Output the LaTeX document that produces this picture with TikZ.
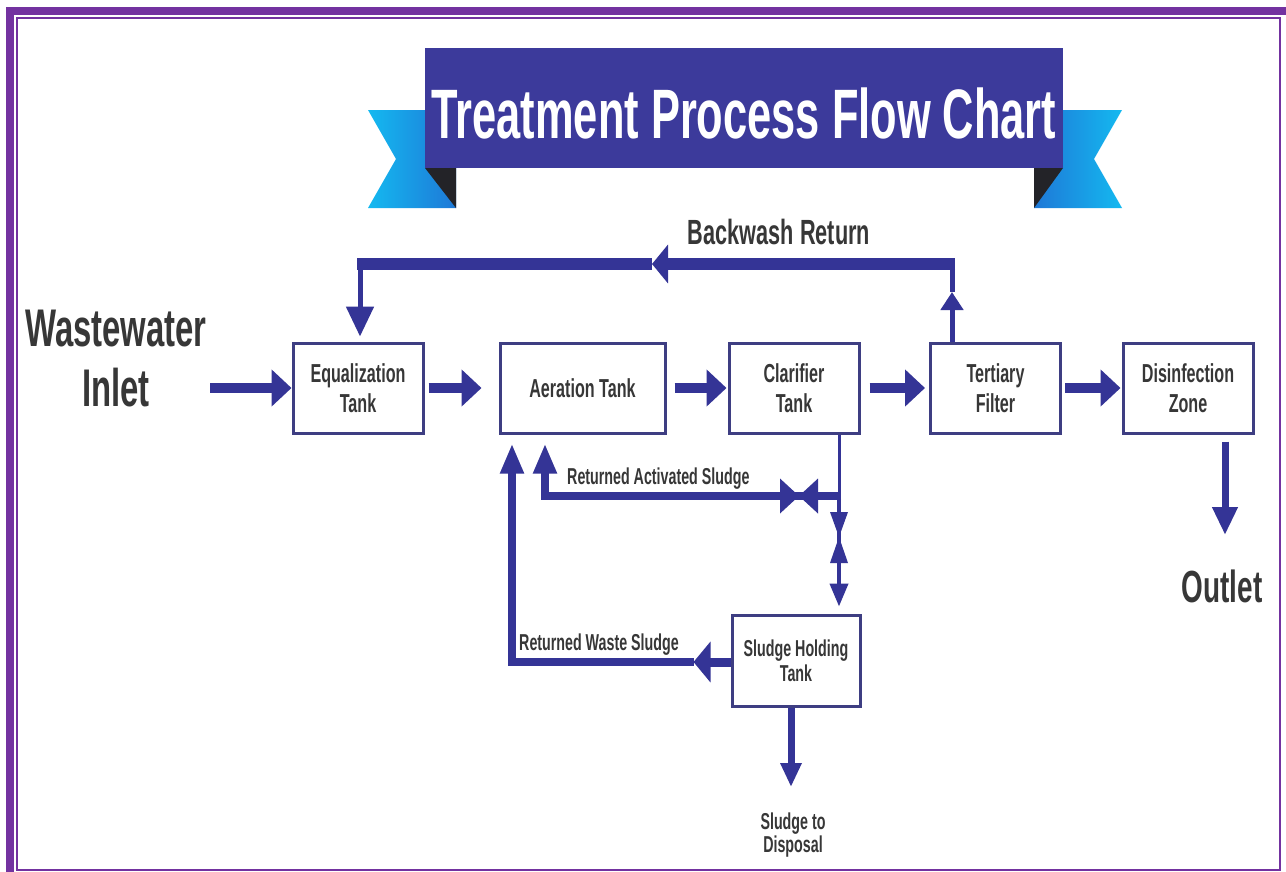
\documentclass[tikz,border=0pt]{standalone}
\usepackage{fontspec}
\setmainfont{Liberation Sans}
\newfontfamily\cndfont{Liberation Sans}[FakeStretch=0.62]
\usetikzlibrary{arrows.meta,calc}
\definecolor{pipe}{RGB}{52,52,150}
\definecolor{banner}{RGB}{60,58,155}
\definecolor{boxline}{RGB}{62,62,130}
\definecolor{txt}{RGB}{55,55,55}
\definecolor{framepurple}{RGB}{115,50,160}
\definecolor{tailL}{RGB}{20,185,240}
\definecolor{tailD}{RGB}{30,120,215}
\definecolor{fold}{RGB}{35,35,40}

\begin{document}
\begin{tikzpicture}[x=1pt,y=-1pt,
    tank/.style={draw=boxline,line width=3pt,fill=white,minimum width=130pt,minimum height=90pt,
      align=center,text=txt,font=\cndfont\bfseries\fontsize{26}{30}\selectfont},
    flowtag/.style={text=txt,inner sep=0pt,font=\cndfont\bfseries\fontsize{23}{24}\selectfont},
    mainflow/.style={draw=pipe,line width=10pt,-{Triangle[length=20pt,width=36pt]}},
    drop/.style={draw=pipe,line width=7pt,-{Triangle[length=28pt,width=24pt]}},
    feed/.style={draw=pipe,line width=5pt},
    backwash/.style={draw=pipe,line width=12pt},
    sludge/.style={draw=pipe,line width=8pt}]
  \useasboundingbox (0,0) rectangle (1286,871);
  \fill[white] (0,0) rectangle (1286,871);
  % frame
  \draw[framepurple,line width=8pt] (10,10.5) rectangle (1290,880);
  \draw[framepurple,line width=2.5pt] (17,18) rectangle (1280,870);

  % ribbon
  \shade[left color=tailL,right color=tailD] (368,110) -- (456,110) -- (456,208) -- (368,208) -- (396,159) -- cycle;
  \shade[left color=tailD,right color=tailL] (1122,110) -- (1034,110) -- (1034,208) -- (1122,208) -- (1094,159) -- cycle;
  \fill[fold] (425,168) -- (456,168) -- (456,208) -- cycle;
  \fill[fold] (1063,168) -- (1034,168) -- (1034,208) -- cycle;
  \node[fill=banner,minimum width=638pt,minimum height=120pt] (banner) at (744,108) {};
  \node[text=white,font=\cndfont\bfseries\fontsize{70}{80}\selectfont] (title) at (744,113) {Treatment Process Flow Chart};

  % tanks
  \node[tank] (eq) at (358,388) {Equalization\\Tank};
  \node[tank,minimum width=165pt] (aer) at (582.5,388) {Aeration Tank};
  \node[tank] (clar) at (794,388) {Clarifier\\Tank};
  \node[tank] (tert) at (995.5,388) {Tertiary\\Filter};
  \node[tank] (dis) at (1188,388) {Disinfection\\Zone};
  \node[tank,minimum width=128pt,minimum height=91pt,font=\cndfont\bfseries\fontsize{23}{25}\selectfont] (hold) at (796,660.5) {Sludge Holding\\Tank};

  % texts
  \node[align=center,text=txt,font=\cndfont\bfseries\fontsize{53}{60}\selectfont] (inlet) at (116,359) {Wastewater\\Inlet};
  \node[text=txt,font=\cndfont\bfseries\fontsize{45}{50}\selectfont] (outlet) at (1222,586) {Outlet};
  \node[flowtag,align=center,font=\cndfont\bfseries\fontsize{23}{21}\selectfont] (disposal) at (793,835) {Sludge to\\Disposal};
  \node[flowtag,font=\cndfont\bfseries\fontsize{35}{40}\selectfont] (bwlabel) at (779,232) {Backwash Return};
  \node[flowtag,anchor=base west] (raslabel) at (567,484) {Returned Activated Sludge};
  \node[flowtag,anchor=base west] (rwslabel) at (519,650) {Returned Waste Sludge};

  % main line
  \coordinate (inS) at (210,388);
  \coordinate (outT) at (1225,535);
  \draw[mainflow] (inS) -- (eq.west);
  \draw[mainflow] ([xshift=4pt]eq.east) -- ([xshift=-17pt]aer.west);
  \draw[mainflow] ([xshift=8pt]aer.east) -- ([xshift=-1pt]clar.west);
  \draw[mainflow] ([xshift=9pt]clar.east) -- ([xshift=-4pt]tert.west);
  \draw[mainflow] ([xshift=3pt]tert.east) -- ([xshift=-1pt]dis.west);
  \draw[drop] ([xshift=37pt,yshift=-7pt]dis.south) -- (outT);

  % backwash return
  \coordinate (bwR) at (952,264);
  \coordinate (bwL) at (360,264);
  \coordinate (bwUp) at (952,292);
  \coordinate (bwM) at (652,264);
  \draw[feed,-{Triangle[length=18pt,width=22pt]}] ([xshift=-43.5pt]tert.north) -- (bwUp);
  \draw[feed] (bwUp) -- (bwR);
  \draw[backwash,-{Triangle[length=16pt,width=38pt]}] ([xshift=3pt]bwR) -- (bwM);
  \draw[backwash] (bwM) -- ([xshift=-3pt]bwL);
  \draw[feed,-{Triangle[length=30pt,width=27pt]}] (bwL) -- ([xshift=2pt,yshift=5pt]eq.north);

  % returned activated sludge
  \coordinate (rasJ) at (839,496);
  \draw[pipe,line width=3pt] (rasJ |- clar.south) -- (rasJ);
  \draw[sludge,-{Triangle[length=30pt,width=22pt]}] ([xshift=2pt]rasJ) -| ([xshift=-37.5pt,yshift=-9pt]aer.south);
  \draw[pipe,line width=4pt,-{Triangle[length=23pt,width=18pt]}] (rasJ) -- ([xshift=43pt,yshift=7pt]hold.north);
  % valves
  \coordinate (valveH) at (799,496);
  \coordinate (valveV) at (839,537);
  \fill[pipe] (valveH) -- ++(-19,-17.5) -- ++(0,35) -- cycle;
  \fill[pipe] (valveH) -- ++(19,-17.5) -- ++(0,35) -- cycle;
  \fill[pipe] (valveV) -- ++(-9,-25) -- ++(18,0) -- cycle;
  \fill[pipe] (valveV) -- ++(-9,26) -- ++(18,0) -- cycle;

  % returned waste sludge
  \coordinate (rwsM) at ($(hold.west)+(-37,1.5)$);
  \draw[sludge,line width=9pt,-{Triangle[length=17pt,width=40pt]}] ([yshift=-1.5pt]hold.west) -- (rwsM);
  \draw[sludge,-{Triangle[length=30pt,width=22pt]}] (rwsM) -| ([xshift=-70.5pt,yshift=-9pt]aer.south);

  % sludge to disposal
  \coordinate (dispT) at (791,787);
  \draw[drop,-{Triangle[length=24pt,width=20pt]}] ([xshift=-5pt]hold.south) -- (dispT);
\end{tikzpicture}
\end{document}
